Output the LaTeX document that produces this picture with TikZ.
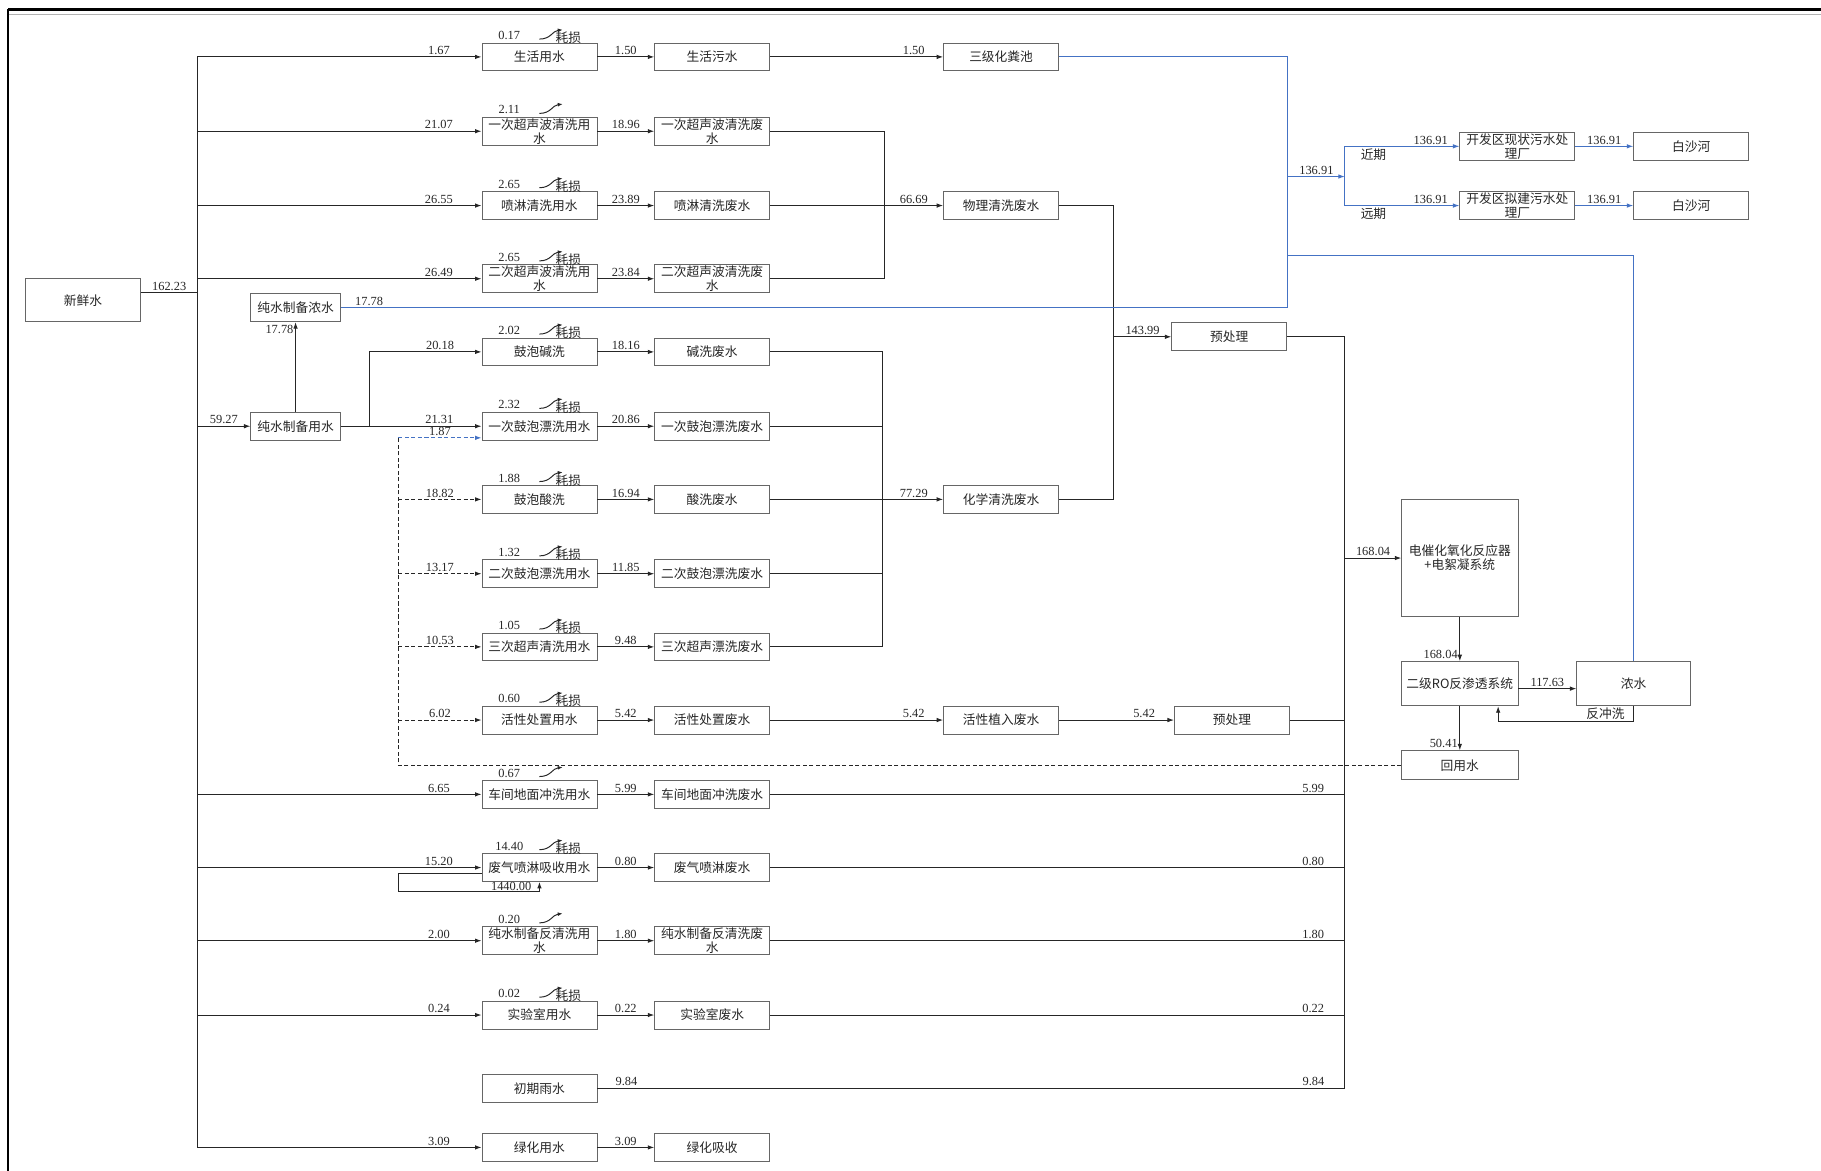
\documentclass[tikz,border=0pt]{standalone}
\usepackage{fontspec}
\setmainfont{Liberation Serif}
\newfontfamily\cjk{Noto Sans CJK SC}
\usepackage{xcolor}
\usepackage{tikz}
\usetikzlibrary{arrows.meta,positioning,calc}
\definecolor{flowblue}{HTML}{4472C4}

\begin{document}
\begin{tikzpicture}[
    x=0.025cm, y=-0.025cm,
    box/.style={rectangle, draw=black!60, line width=0.5pt, minimum width=2.475cm, minimum height=0.6cm, inner sep=0.5pt, align=center, text=black!85, font=\cjk\fontsize{7.8}{8.6}\selectfont},
    num/.style={inner sep=1pt, text=black!85, font=\fontsize{7.6}{8}\selectfont},
    txt/.style={inner sep=1pt, text=black!85, font=\cjk\fontsize{7.8}{8.6}\selectfont},
    pipe/.style={line width=0.6pt, black!85},
    flow/.style={pipe, -{Latex[length=4pt, width=2.8pt]}},
    dpipe/.style={pipe, dash pattern=on 2.5pt off 1.5pt},
    dflow/.style={flow, dash pattern=on 2.5pt off 1.5pt},
    bpipe/.style={line width=0.6pt, flowblue},
    bflow/.style={bpipe, -{Latex[length=4pt, width=2.8pt]}},
    pics/lossmark/.style={code={
        \node[num] (-n) at (-26,-6) {#1};
        \draw[pipe, -{Latex[length=3pt, width=2.4pt]}] (0,-3) .. controls (10,-3) and (11,-10) .. (20,-11);
        \node[txt] (-t) at (25,-4) {耗损};
    }},
    pics/lossbare/.style={code={
        \node[num] (-n) at (-26,-6) {#1};
        \draw[pipe, -{Latex[length=3pt, width=2.4pt]}] (0,-3) .. controls (10,-3) and (11,-10) .. (20,-11);
    }},
]
\useasboundingbox (0,0) rectangle (1568,1008);

% frame
\draw[line width=1.6pt] (7,8) -- (1568,8);
\draw[black!30, line width=0.4pt] (7,12) -- (1568,12);
\draw[line width=1.2pt] (7,8) -- (7,1008);

% water use
\node[box, minimum height=0.925cm] (fresh) at (71.5,258.5) {新鲜水};
\node[box] (u1) at (464.5,49) {生活用水};
\node[box] (u2) at (464.5,113) {一次超声波清洗用\\水};
\node[box] (u3) at (464.5,177) {喷淋清洗用水};
\node[box] (u4) at (464.5,240) {二次超声波清洗用\\水};
\node[box] (u5) at (464.5,303) {鼓泡碱洗};
\node[box] (u6) at (464.5,367) {一次鼓泡漂洗用水};
\node[box] (u7) at (464.5,430) {鼓泡酸洗};
\node[box] (u8) at (464.5,494) {二次鼓泡漂洗用水};
\node[box] (u9) at (464.5,557) {三次超声清洗用水};
\node[box] (u10) at (464.5,620) {活性处置用水};
\node[box] (u11) at (464.5,684) {车间地面冲洗用水};
\node[box] (u12) at (464.5,747) {废气喷淋吸收用水};
\node[box] (u13) at (464.5,810) {纯水制备反清洗用\\水};
\node[box] (u14) at (464.5,874) {实验室用水};
\node[box] (u15) at (464.5,937) {初期雨水};
\node[box] (u16) at (464.5,988) {绿化用水};
\node[box, minimum width=1.925cm] (purein) at (254.5,367) {纯水制备用水};
\node[box, minimum width=1.925cm] (pureconc) at (254.5,265) {纯水制备浓水};

% waste water
\node[box, right=1.225cm of u1] (w1) {生活污水};
\node[box, right=1.225cm of u2] (w2) {一次超声波清洗废\\水};
\node[box, right=1.225cm of u3] (w3) {喷淋清洗废水};
\node[box, right=1.225cm of u4] (w4) {二次超声波清洗废\\水};
\node[box, right=1.225cm of u5] (w5) {碱洗废水};
\node[box, right=1.225cm of u6] (w6) {一次鼓泡漂洗废水};
\node[box, right=1.225cm of u7] (w7) {酸洗废水};
\node[box, right=1.225cm of u8] (w8) {二次鼓泡漂洗废水};
\node[box, right=1.225cm of u9] (w9) {三次超声漂洗废水};
\node[box, right=1.225cm of u10] (w10) {活性处置废水};
\node[box, right=1.225cm of u11] (w11) {车间地面冲洗废水};
\node[box, right=1.225cm of u12] (w12) {废气喷淋废水};
\node[box, right=1.225cm of u13] (w13) {纯水制备反清洗废\\水};
\node[box, right=1.225cm of u14] (w14) {实验室废水};
\node[box, right=1.225cm of u16] (w16) {绿化吸收};

\node[box, right=3.725cm of w1] (septic) {三级化粪池};
\node[box, right=3.725cm of w3] (phys) {物理清洗废水};
\node[box, right=3.725cm of w7] (chem) {化学清洗废水};
\node[box, right=3.725cm of w10] (act) {活性植入废水};
\node[box] (pre1) at (1058.5,290) {预处理};
\node[box, right=2.475cm of act] (pre2) {预处理};

% treatment
\node[box, minimum width=2.5cm, minimum height=2.525cm] (eco) at (1257,480.5) {电催化氧化反应器\\+电絮凝系统};
\node[box, minimum width=2.5cm, minimum height=0.95cm, below=0.95cm of eco] (ro) {二级RO反渗透系统};
\node[box, minimum width=2.45cm, minimum height=0.95cm, right=1.25cm of ro] (conc) {浓水};
\node[box, minimum width=2.5cm, minimum height=0.625cm, below=0.95cm of ro] (reuse) {回用水};
\node[box] (wwtp1) at (1306.5,126) {开发区现状污水处\\理厂};
\node[box] (wwtp2) at (1306.5,177) {开发区拟建污水处\\理厂};
\node[box, right=1.25cm of wwtp1] (river1) {白沙河};
\node[box, right=1.25cm of wwtp2] (river2) {白沙河};

% bus lines
\coordinate (trunk) at (170,0);
\coordinate (pbr) at (318,0);
\coordinate (rbt) at (343,377);
\coordinate (c1) at (762,0);
\coordinate (c2) at (760,0);
\coordinate (c3) at (959,0);
\coordinate (ebus) at (1158,0);
\coordinate (bbus) at (1109,0);
\coordinate (split) at (1158,152);
\coordinate (cbr) at (1109,220);
\coordinate (bw) at (1290,621);
\coordinate (fo) at ([yshift=0.16cm]fresh.east);
\coordinate (lp) at ([yshift=-0.125cm]u12.west);
\coordinate (loopc) at (343,768);

% fresh water supply
\draw[pipe] (fo) -- node[num, above]{162.23} (fo -| trunk);
\draw[pipe] (trunk |- u1.west) -- (trunk |- u16.west);
\draw[flow] (trunk |- u1.west) -- node[num, above, pos=0.85]{1.67} (u1.west);
\draw[flow] (trunk |- u2.west) -- node[num, above, pos=0.85]{21.07} (u2.west);
\draw[flow] (trunk |- u3.west) -- node[num, above, pos=0.85]{26.55} (u3.west);
\draw[flow] (trunk |- u4.west) -- node[num, above, pos=0.85]{26.49} (u4.west);
\draw[flow] (trunk |- u11.west) -- node[num, above, pos=0.85]{6.65} (u11.west);
\draw[flow] (trunk |- u12.west) -- node[num, above, pos=0.85]{15.20} (u12.west);
\draw[flow] (trunk |- u13.west) -- node[num, above, pos=0.85]{2.00} (u13.west);
\draw[flow] (trunk |- u14.west) -- node[num, above, pos=0.85]{0.24} (u14.west);
\draw[flow] (trunk |- u16.west) -- node[num, above, pos=0.85]{3.09} (u16.west);
\draw[flow] (trunk |- purein.west) -- node[num, above]{59.27} (purein.west);
\draw[flow] (purein) -- node[num, left, pos=0.92]{17.78} (pureconc);
\draw[flow] (purein.east) -- node[num, above, pos=0.7]{21.31} (u6.west);
\draw[flow] (pbr |- purein.east) -- (pbr |- u5.west) -- node[num, above, pos=0.63]{20.18} (u5.west);
\draw[flow] (lp) -| (loopc) -| node[num, above, pos=0.4, inner sep=0.5pt]{1440.00} (u12.south);

% losses
\pic (k1) at (u1.north) {lossmark=0.17};
\pic (k2) at (u2.north) {lossbare=2.11};
\pic (k3) at (u3.north) {lossmark=2.65};
\pic (k4) at (u4.north) {lossmark=2.65};
\pic (k5) at (u5.north) {lossmark=2.02};
\pic (k6) at (u6.north) {lossmark=2.32};
\pic (k7) at (u7.north) {lossmark=1.88};
\pic (k8) at (u8.north) {lossmark=1.32};
\pic (k9) at (u9.north) {lossmark=1.05};
\pic (k10) at (u10.north) {lossmark=0.60};
\pic (k11) at (u11.north) {lossbare=0.67};
\pic (k12) at (u12.north) {lossmark=14.40};
\pic (k13) at (u13.north) {lossbare=0.20};
\pic (k14) at (u14.north) {lossmark=0.02};

% use -> waste
\draw[flow] (u1) -- node[num, above]{1.50} (w1);
\draw[flow] (u2) -- node[num, above]{18.96} (w2);
\draw[flow] (u3) -- node[num, above]{23.89} (w3);
\draw[flow] (u4) -- node[num, above]{23.84} (w4);
\draw[flow] (u5) -- node[num, above]{18.16} (w5);
\draw[flow] (u6) -- node[num, above]{20.86} (w6);
\draw[flow] (u7) -- node[num, above]{16.94} (w7);
\draw[flow] (u8) -- node[num, above]{11.85} (w8);
\draw[flow] (u9) -- node[num, above]{9.48} (w9);
\draw[flow] (u10) -- node[num, above]{5.42} (w10);
\draw[flow] (u11) -- node[num, above]{5.99} (w11);
\draw[flow] (u12) -- node[num, above]{0.80} (w12);
\draw[flow] (u13) -- node[num, above]{1.80} (w13);
\draw[flow] (u14) -- node[num, above]{0.22} (w14);
\draw[flow] (u16) -- node[num, above]{3.09} (w16);

% collection
\draw[flow] (w1) -- node[num, above, pos=0.83]{1.50} (septic);
\draw[pipe] (w2.east) -- (c1 |- w2.east) -- (c1 |- w4.east) -- (w4.east);
\draw[flow] (w3) -- node[num, above, pos=0.83]{66.69} (phys);
\draw[pipe] (w5.east) -- (c2 |- w5.east) -- (c2 |- w9.east) -- (w9.east);
\draw[pipe] (w6.east) -- (c2 |- w6.east);
\draw[pipe] (w8.east) -- (c2 |- w8.east);
\draw[flow] (w7) -- node[num, above, pos=0.83]{77.29} (chem);
\draw[flow] (w10) -- node[num, above, pos=0.83]{5.42} (act);
\draw[pipe] (phys.east) -- (c3 |- phys.east) -- (c3 |- chem.east) -- (chem.east);
\draw[flow] (c3 |- pre1.west) -- node[num, above]{143.99} (pre1.west);
\draw[flow] (act) -- node[num, above, pos=0.74]{5.42} (pre2);
\draw[pipe] (pre1.east) -- (ebus |- pre1.east) -- (ebus |- u15.east) -- node[num, above, pos=0.042]{9.84} node[num, above, pos=0.961]{9.84} (u15.east);
\draw[pipe] (pre2.east) -- (ebus |- pre2.east);
\draw[pipe] (w11.east) -- node[num, above, pos=0.945]{5.99} (ebus |- w11.east);
\draw[pipe] (w12.east) -- node[num, above, pos=0.945]{0.80} (ebus |- w12.east);
\draw[pipe] (w13.east) -- node[num, above, pos=0.945]{1.80} (ebus |- w13.east);
\draw[pipe] (w14.east) -- node[num, above, pos=0.945]{0.22} (ebus |- w14.east);

% treatment and reuse
\draw[flow] (ebus |- eco.west) -- node[num, above]{168.04} (eco.west);
\draw[flow] (eco) -- node[num, left, pos=0.84]{168.04} (ro);
\draw[flow] ([yshift=-3pt]ro.east) -- node[num, above]{117.63} ([yshift=-3pt]conc.west);
\draw[flow] (conc.south) |- node[txt, above left, xshift=-0.15cm]{反冲洗} (bw) -- (bw |- ro.south);
\draw[flow] (ro) -- node[num, left, pos=0.84]{50.41} (reuse);
\draw[dpipe] (reuse.west) -| (rbt);
\draw[bflow, dash pattern=on 2.5pt off 1.5pt] (rbt) -- node[num, above]{1.87} (rbt -| u6.west);
\draw[dflow] (rbt |- u7.west) -- node[num, above]{18.82} (u7.west);
\draw[dflow] (rbt |- u8.west) -- node[num, above]{13.17} (u8.west);
\draw[dflow] (rbt |- u9.west) -- node[num, above]{10.53} (u9.west);
\draw[dflow] (rbt |- u10.west) -- node[num, above]{6.02} (u10.west);

% discharge
\draw[bpipe] (septic.east) -| (bbus |- pureconc.east) -- node[num, above, pos=0.97]{17.78} (pureconc.east);
\draw[bflow] (bbus |- split) -- node[num, above]{136.91} (split);
\draw[bpipe] (split |- wwtp1.west) -- (split |- wwtp2.west);
\draw[bflow] (split |- wwtp1.west) -- node[num, above, pos=0.75]{136.91} node[txt, below, pos=0.25]{近期} (wwtp1.west);
\draw[bflow] (split |- wwtp2.west) -- node[num, above, pos=0.75]{136.91} node[txt, below, pos=0.25]{远期} (wwtp2.west);
\draw[bflow] (wwtp1) -- node[num, above]{136.91} (river1);
\draw[bflow] (wwtp2) -- node[num, above]{136.91} (river2);
\draw[bpipe] (cbr) -| (conc.north);
\end{tikzpicture}
\end{document}
